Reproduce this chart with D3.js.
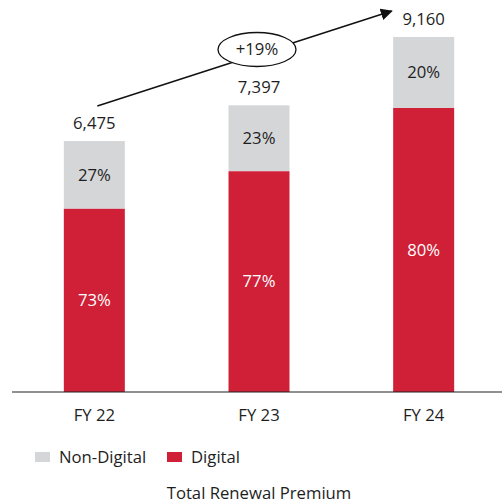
<!DOCTYPE html>
<meta charset="utf-8">
<style>
    body { margin: 0; background: #fff; }
    text { font-family: "Open Sans", Roboto, sans-serif; fill: #1e1e1e; font-size: 16.7px; }
</style>
<svg id="chart" width="502" height="503"></svg>
<script src="https://d3js.org/d3.v7.min.js"></script>
<script>

    // data
    var years = ["FY 22", "FY 23", "FY 24"];
    var totals = [6475, 7397, 9160];
    var digitalPct = [73, 77, 80];
    var nonDigitalPct = [27, 23, 20];
    var growthLabel = "+19%";
    var legendLabels = ["Non-Digital", "Digital"];
    var title = "Total Renewal Premium";

    var svg = d3.select("#chart");

    var red = "#cf2037", grey = "#d5d6d8";

    var x = d3.scalePoint().domain(years).range([12, 506]).padding(0.5);
    var y = d3.scaleLinear().domain([0, d3.max(totals)]).range([392, 37]);
    var barW = 61;

    var rows = years.map(function(yr, i) {
        var dig = totals[i] * digitalPct[i] / 100;
        return {year: yr, total: totals[i], dig: dig, dp: digitalPct[i], np: nonDigitalPct[i]};
    });

    var g = svg.append("g");

    // non-digital (top part)
    g.selectAll(".nd").data(rows).enter().append("rect")
        .attr("x", d => x(d.year) - barW / 2)
        .attr("y", d => y(d.total))
        .attr("width", barW)
        .attr("height", d => y(d.dig) - y(d.total))
        .attr("fill", grey);

    // digital
    g.selectAll(".dg").data(rows).enter().append("rect")
        .attr("x", d => x(d.year) - barW / 2)
        .attr("y", d => y(d.dig))
        .attr("width", barW)
        .attr("height", d => y(0) - y(d.dig))
        .attr("fill", red);

    // percent labels
    g.selectAll(".np").data(rows).enter().append("text")
        .attr("x", d => x(d.year))
        .attr("y", d => (y(d.total) + y(d.dig)) / 2)
        .attr("dy", "0.35em")
        .attr("text-anchor", "middle")
        .text(d => d.np + "%");

    g.selectAll(".dp").data(rows).enter().append("text")
        .attr("x", d => x(d.year))
        .attr("y", d => (y(d.dig) + y(0)) / 2)
        .attr("dy", "0.35em")
        .attr("text-anchor", "middle")
        .style("fill", "#fff")
        .text(d => d.dp + "%");

    // totals
    g.selectAll(".tot").data(rows).enter().append("text")
        .attr("x", d => x(d.year))
        .attr("y", d => y(d.total) - 18)
        .attr("dy", "0.35em")
        .attr("text-anchor", "middle")
        .text(d => d3.format(",")(d.total));

    // axis line
    svg.append("line")
        .attr("x1", 12).attr("x2", 502)
        .attr("y1", y(0)).attr("y2", y(0))
        .attr("stroke", "#222").attr("stroke-width", 1.2);

    svg.selectAll(".cat").data(years).enter().append("text")
        .attr("x", d => x(d))
        .attr("y", y(0) + 23)
        .attr("dy", "0.35em")
        .attr("text-anchor", "middle")
        .text(d => d);

    // growth arrow
    svg.append("defs").append("marker")
        .attr("id", "head")
        .attr("viewBox", "0 0 10 10")
        .attr("refX", 9).attr("refY", 5)
        .attr("markerWidth", 12).attr("markerHeight", 12)
        .attr("markerUnits", "userSpaceOnUse")
        .attr("orient", "auto")
        .append("path").attr("d", "M0,0 L10,5 L0,10 z").attr("fill", "#111");

    var ax1 = x(years[0]) + 3, ay1 = y(totals[0]) - 35;
    var ax2 = x(years[2]) - 32, ay2 = y(totals[2]) - 26;
    svg.append("line")
        .attr("x1", ax1).attr("y1", ay1)
        .attr("x2", ax2).attr("y2", ay2)
        .attr("stroke", "#111").attr("stroke-width", 1.5)
        .attr("marker-end", "url(#head)");

    var t = (x(years[1]) - 2 - ax1) / (ax2 - ax1);
    var ex = ax1 + t * (ax2 - ax1), ey = ay1 + t * (ay2 - ay1) - 5;
    svg.append("ellipse")
        .attr("cx", ex).attr("cy", ey)
        .attr("rx", 39).attr("ry", 17)
        .attr("fill", "#fff").attr("stroke", "#111").attr("stroke-width", 1.3);
    svg.append("text")
        .attr("x", ex).attr("y", ey)
        .attr("dy", "0.35em")
        .attr("text-anchor", "middle")
        .text(growthLabel);

    // legend
    var leg = svg.append("g").attr("transform", "translate(35,452)");
    var legX = [0, 132];
    var legC = [grey, red];
    legendLabels.forEach(function(l, i) {
        leg.append("rect").attr("x", legX[i]).attr("y", 0)
            .attr("width", 15).attr("height", 10).attr("fill", legC[i]);
        leg.append("text").attr("x", legX[i] + 24).attr("y", 5)
            .attr("dy", "0.35em")
            .text(l);
    });

    svg.append("text")
        .attr("x", 259).attr("y", 493)
        .attr("dy", "0.35em")
        .attr("text-anchor", "middle")
        .text(title);

</script>
